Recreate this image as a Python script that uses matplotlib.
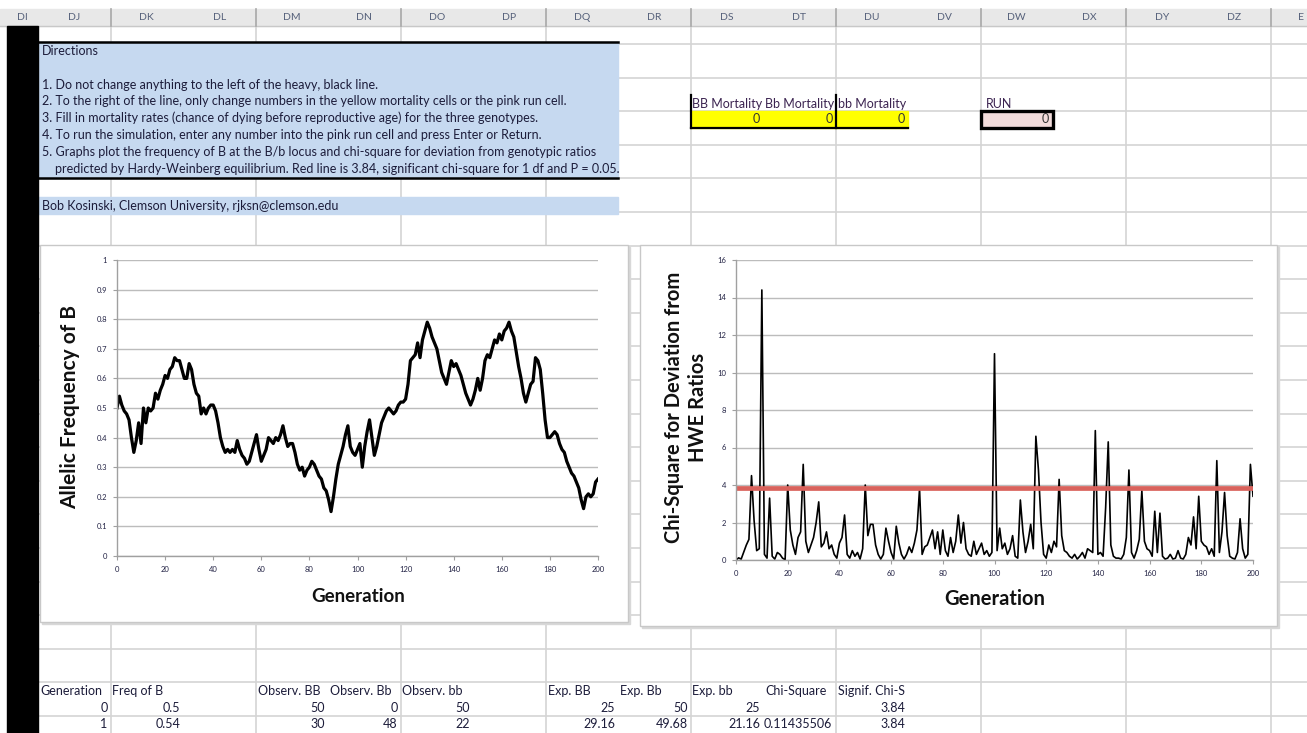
import matplotlib.pyplot as plt
from matplotlib.patches import Rectangle
import numpy as np

W, H = 1307, 733

generation = np.arange(0, 201)

freq_b = [
    0.50, 0.54, 0.51, 0.49, 0.48, 0.46, 0.40, 0.35, 0.39, 0.45,
    0.38, 0.50, 0.45, 0.50, 0.49, 0.50, 0.55, 0.53, 0.56, 0.58,
    0.61, 0.60, 0.63, 0.64, 0.67, 0.66, 0.66, 0.63, 0.60, 0.60,
    0.65, 0.63, 0.58, 0.55, 0.54, 0.48, 0.50, 0.48, 0.50, 0.51,
    0.51, 0.49, 0.45, 0.40, 0.37, 0.35, 0.36, 0.35, 0.36, 0.35,
    0.39, 0.36, 0.34, 0.33, 0.31, 0.32, 0.35, 0.38, 0.41, 0.36,
    0.32, 0.34, 0.36, 0.40, 0.39, 0.38, 0.40, 0.39, 0.41, 0.44,
    0.40, 0.37, 0.38, 0.38, 0.35, 0.31, 0.29, 0.30, 0.27, 0.29,
    0.30, 0.32, 0.31, 0.29, 0.27, 0.26, 0.23, 0.22, 0.19, 0.15,
    0.20, 0.26, 0.31, 0.34, 0.37, 0.41, 0.44, 0.37, 0.35, 0.34,
    0.36, 0.38, 0.30, 0.37, 0.42, 0.46, 0.40, 0.34, 0.37, 0.41,
    0.45, 0.47, 0.49, 0.50, 0.49, 0.48, 0.49, 0.51, 0.52, 0.52,
    0.53, 0.58, 0.66, 0.67, 0.68, 0.72, 0.67, 0.73, 0.76, 0.79,
    0.77, 0.74, 0.72, 0.70, 0.66, 0.62, 0.60, 0.58, 0.62, 0.66,
    0.64, 0.65, 0.63, 0.61, 0.58, 0.55, 0.53, 0.51, 0.53, 0.56,
    0.60, 0.56, 0.60, 0.66, 0.68, 0.67, 0.70, 0.73, 0.72, 0.75,
    0.73, 0.76, 0.77, 0.79, 0.76, 0.74, 0.69, 0.64, 0.60, 0.55,
    0.52, 0.55, 0.58, 0.59, 0.67, 0.66, 0.63, 0.55, 0.46, 0.40,
    0.40, 0.41, 0.42, 0.41, 0.38, 0.36, 0.35, 0.32, 0.30, 0.28,
    0.27, 0.25, 0.23, 0.19, 0.16, 0.20, 0.21, 0.20, 0.21, 0.25,
    0.26,
]

chi_square = [
    0.0, 0.11435506, 0.05, 0.42, 0.8, 1.1, 4.5, 2.1, 0.5, 0.6,
    14.4, 0.3, 0.1, 3.3, 0.2, 0.05, 0.4, 0.3, 0.1, 0.02,
    4.0, 1.6, 0.8, 0.3, 1.2, 1.5, 5.1, 1.0, 0.4, 0.8,
    1.2, 2.0, 3.1, 0.7, 0.9, 1.5, 0.6, 0.8, 0.3, 0.1,
    0.9, 1.2, 2.4, 0.3, 0.1, 0.5, 0.2, 0.4, 0.05, 0.6,
    4.0, 1.3, 1.9, 1.9, 0.8, 0.3, 0.05, 0.3, 1.7, 1.0,
    0.4, 0.05, 1.8, 0.9, 0.3, 0.05, 0.3, 0.7, 0.4, 0.9,
    1.6, 3.8, 0.3, 0.7, 0.8, 1.2, 1.6, 0.6, 1.5, 0.3,
    1.6, 0.5, 0.2, 1.2, 0.4, 1.0, 2.4, 0.9, 2.0, 0.6,
    0.3, 0.2, 1.0, 0.3, 0.6, 0.9, 0.3, 0.5, 0.2, 0.4,
    11.0, 0.5, 1.7, 0.6, 0.9, 0.3, 0.6, 1.3, 0.2, 0.1,
    3.2, 1.5, 0.4, 1.0, 1.9, 0.6, 6.6, 4.8, 2.0, 0.3,
    0.1, 0.8, 0.4, 1.0, 0.7, 4.3, 1.3, 0.5, 0.4, 0.2,
    0.1, 0.3, 0.05, 0.2, 0.4, 0.1, 0.6, 0.5, 0.4, 6.9,
    0.3, 0.4, 0.2, 2.8, 6.3, 0.8, 0.2, 0.1, 0.1, 0.05,
    0.3, 1.2, 4.8, 0.4, 0.1, 0.5, 1.1, 3.7, 1.0, 0.6,
    0.5, 0.2, 2.6, 0.4, 2.5, 0.2, 0.05, 0.1, 0.3, 0.05,
    0.1, 0.5, 0.1, 0.05, 0.3, 1.2, 0.8, 2.3, 0.6, 3.4,
    1.0, 0.8, 0.7, 0.3, 0.6, 0.2, 5.3, 0.4, 1.5, 3.6,
    1.3, 0.2, 0.1, 0.05, 0.4, 2.2, 0.6, 0.1, 0.3, 5.1,
    3.4,
]

chi_crit = 3.84

col_labels = ["DI", "DJ", "DK", "DL", "DM", "DN", "DO", "DP", "DQ", "DR",
              "DS", "DT", "DU", "DV", "DW", "DX", "DY", "DZ", "E"]

directions = [
    "Directions",
    "",
    "1. Do not change anything to the left of the heavy, black line.",
    "2. To the right of the line, only change numbers in the yellow mortality cells or the pink run cell.",
    "3. Fill in mortality rates (chance of dying before reproductive age) for the three genotypes.",
    "4. To run the simulation, enter any number into the pink run cell and press Enter or Return.",
    "5. Graphs plot the frequency of B at the B/b locus and chi-square for deviation from genotypic ratios",
    "    predicted by Hardy-Weinberg equilibrium. Red line is 3.84, significant chi-square for 1 df and P = 0.05.",
]
author = "Bob Kosinski, Clemson University, rjksn@clemson.edu"

mort_labels = ["BB Mortality", "Bb Mortality", "bb Mortality"]
mort_values = [0, 0, 0]
run_label = "RUN"
run_value = 0

table_header = ["Generation", "Freq of B", "", "Observ. BB", "Observ. Bb", "Observ. bb", "",
                "Exp. BB", "Exp. Bb", "Exp. bb", "Chi-Square", "Signif. Chi-S"]
table_rows = [
    ["0", "0.5", "", "50", "0", "50", "", "25", "50", "25", "", "3.84"],
    ["1", "0.54", "", "30", "48", "22", "", "29.16", "49.68", "21.16", "0.11435506", "3.84"],
]

plt.rcParams["font.family"] = ["Lato", "DejaVu Sans"]

fig = plt.figure(figsize=(W / 100, H / 100), dpi=100)
bg = fig.add_axes([0, 0, 1, 1], zorder=0)
bg.set_xlim(0, W)
bg.set_ylim(H, 0)
bg.axis("off")

COL0 = 38.0
CW = 72.5
RH = 16.8
ROW0 = 44.0
GRID = "#d4d4d4"
TXT = "#1c1c3a"
FS = 9.0

# sheet gridlines (only every other one survives the screen scale)
for k in range(9):
    x = COL0 + CW + 2 * CW * k
    bg.plot([x, x], [26, H], color=GRID, lw=1.2, zorder=1)
for k in range(0, 42, 2):
    y = ROW0 + RH * k
    bg.plot([COL0, W], [y, y], color=GRID, lw=1.2, zorder=1)

# column header strip
bg.add_patch(Rectangle((0, 9), W, 17, color="#e8e8e8", zorder=2))
bg.plot([0, W], [26, 26], color="#c8c8c8", lw=1, zorder=3)
for k in range(9):
    x = COL0 + CW + 2 * CW * k
    bg.plot([x, x], [9, 26], color="#a8a8a8", lw=1.2, zorder=3)
bg.text(22, 18, col_labels[0], ha="center", va="center", fontsize=7.5, color="#55607a", zorder=4)
for j, lab in enumerate(col_labels[1:-1]):
    bg.text(COL0 + CW * j + CW / 2, 18, lab, ha="center", va="center",
            fontsize=7.5, color="#55607a", zorder=4)
bg.text(W - 3, 18, col_labels[-1], ha="right", va="center", fontsize=7.5,
        color="#55607a", zorder=4)

# heavy black column at the left
bg.add_patch(Rectangle((7, 26), COL0 - 7, H - 26, color="black", zorder=5))

# directions block
box_top = ROW0 - 2
box_bot = ROW0 + RH * 8
bg.add_patch(Rectangle((COL0, box_top), 580, box_bot - box_top, color="#c6d9f0", zorder=2))
bg.plot([COL0, COL0 + 580], [box_top, box_top], color="black", lw=1.8, zorder=3)
bg.plot([COL0, COL0 + 580], [box_bot, box_bot], color="black", lw=1.8, zorder=3)
for i, line in enumerate(directions):
    bg.text(COL0 + 4, box_top + 9 + RH * i, line, ha="left", va="center",
            fontsize=FS, color=TXT, zorder=4)

auth_y = ROW0 + RH * 9
bg.add_patch(Rectangle((COL0, auth_y + 2), 580, RH, color="#c6d9f0", zorder=2))
bg.text(COL0 + 4, auth_y + 2 + RH / 2, author, ha="left", va="center",
        fontsize=FS, color=TXT, zorder=4)

# mortality input cells
lab_y = ROW0 + RH * 3.5
cell_top = ROW0 + RH * 4 - 0.5
cell_bot = cell_top + RH
ds = COL0 + CW * 9
for i, lab in enumerate(mort_labels):
    x0 = ds + CW * i
    t = bg.text(x0 + 2, lab_y + 1, lab, ha="left", va="center", fontsize=FS,
                color="#3b2350", zorder=4)
    clip = Rectangle((x0 + 1, lab_y - 10), CW - 2, 20, transform=bg.transData)
    t.set_clip_path(clip)
bg.add_patch(Rectangle((ds, cell_top), CW * 3, RH, color="#ffff00", zorder=2))
for i, v in enumerate(mort_values):
    bg.text(ds + CW * (i + 1) - 3, cell_top + RH / 2, str(v), ha="right", va="center",
            fontsize=FS, color="#333333", zorder=4)
bg.plot([ds, ds], [lab_y - 8, cell_bot], color="black", lw=1.6, zorder=4)
bg.plot([ds + 2 * CW, ds + 2 * CW], [lab_y - 8, cell_bot], color="black", lw=1.6, zorder=4)
bg.plot([ds, ds + 3 * CW], [cell_bot, cell_bot], color="black", lw=1.6, zorder=4)

rx = COL0 + CW * 13
bg.text(rx + 5, lab_y + 1, run_label, ha="left", va="center", fontsize=FS,
        color="#3b2350", zorder=4)
bg.add_patch(Rectangle((rx, cell_top), CW, RH, facecolor="#f2dcdb", edgecolor="black",
                       lw=2.4, zorder=4))
bg.text(rx + CW - 4, cell_top + RH / 2, str(run_value), ha="right", va="center",
        fontsize=FS, color="#333333", zorder=5)

# data table at the bottom
ty = ROW0 + RH * 38
for j, lab in enumerate(table_header):
    bg.text(COL0 + CW * j + 2, ty + RH / 2, lab, ha="left", va="center",
            fontsize=FS, color=TXT, zorder=4)
for r, row in enumerate(table_rows):
    for j, val in enumerate(row):
        bg.text(COL0 + CW * (j + 1) - 3, ty + RH * (r + 1) + RH / 2, val, ha="right",
                va="center", fontsize=FS, color=TXT, zorder=4)

# chart frames
for (x0, y0, x1, y1) in [(40, 245, 628, 622), (640, 245, 1277, 626)]:
    bg.add_patch(Rectangle((x0 + 2, y0 + 2), x1 - x0, y1 - y0, color="#d8d8d8", zorder=5))
    bg.add_patch(Rectangle((x0, y0), x1 - x0, y1 - y0, facecolor="white",
                           edgecolor="#c8c8c8", lw=1, zorder=6))


def place(x0, y0, x1, y1):
    return [x0 / W, 1 - y1 / H, (x1 - x0) / W, (y1 - y0) / H]


def style(ax):
    for s in ["top", "right"]:
        ax.spines[s].set_visible(False)
    for s in ["left", "bottom"]:
        ax.spines[s].set_color("#a0a0a0")
        ax.spines[s].set_linewidth(1)
    ax.tick_params(length=3, width=0.8, color="#a0a0a0", labelsize=5.5, pad=4,
                   labelcolor="#222244")
    ax.grid(axis="y", color="#bcbcbc", lw=1)
    ax.set_axisbelow(True)


ax1 = fig.add_axes(place(117, 260, 598, 556), zorder=7)
ax1.plot(generation, freq_b, color="black", lw=2.3, solid_joinstyle="round")
ax1.set_xlim(0, 200)
ax1.set_ylim(0, 1)
ax1.set_xticks(np.arange(0, 201, 20))
ax1.set_yticks(np.arange(0, 1.01, 0.1))
ax1.set_yticklabels(["0", "0.1", "0.2", "0.3", "0.4", "0.5", "0.6", "0.7", "0.8", "0.9", "1"])
style(ax1)
fig.text(358 / W, 1 - 597 / H, "Generation", ha="center", va="center",
         fontsize=13.5, fontweight="bold", color="#111111", zorder=8)
fig.text(70 / W, 1 - 407 / H, "Allelic Frequency of B", ha="center", va="center",
         rotation=90, fontsize=15, fontweight="bold", color="#111111", zorder=8)

ax2 = fig.add_axes(place(736, 260, 1253, 560), zorder=7)
ax2.plot(generation, chi_square, color="black", lw=1.2)
ax2.plot([0, 200], [chi_crit, chi_crit], color="#d9625c", lw=3.4)
ax2.set_xlim(0, 200)
ax2.set_ylim(0, 16)
ax2.set_xticks(np.arange(0, 201, 20))
ax2.set_yticks(np.arange(0, 17, 2))
style(ax2)
fig.text(995 / W, 1 - 599 / H, "Generation", ha="center", va="center",
         fontsize=14.5, fontweight="bold", color="#111111", zorder=8)
fig.text(686 / W, 1 - 407 / H, "Chi-Square for Deviation from\nHWE Ratios", ha="center",
         va="center", rotation=90, fontsize=14.5, fontweight="bold", color="#111111",
         linespacing=1.2, zorder=8)

fig.savefig("out.png", dpi=100)
